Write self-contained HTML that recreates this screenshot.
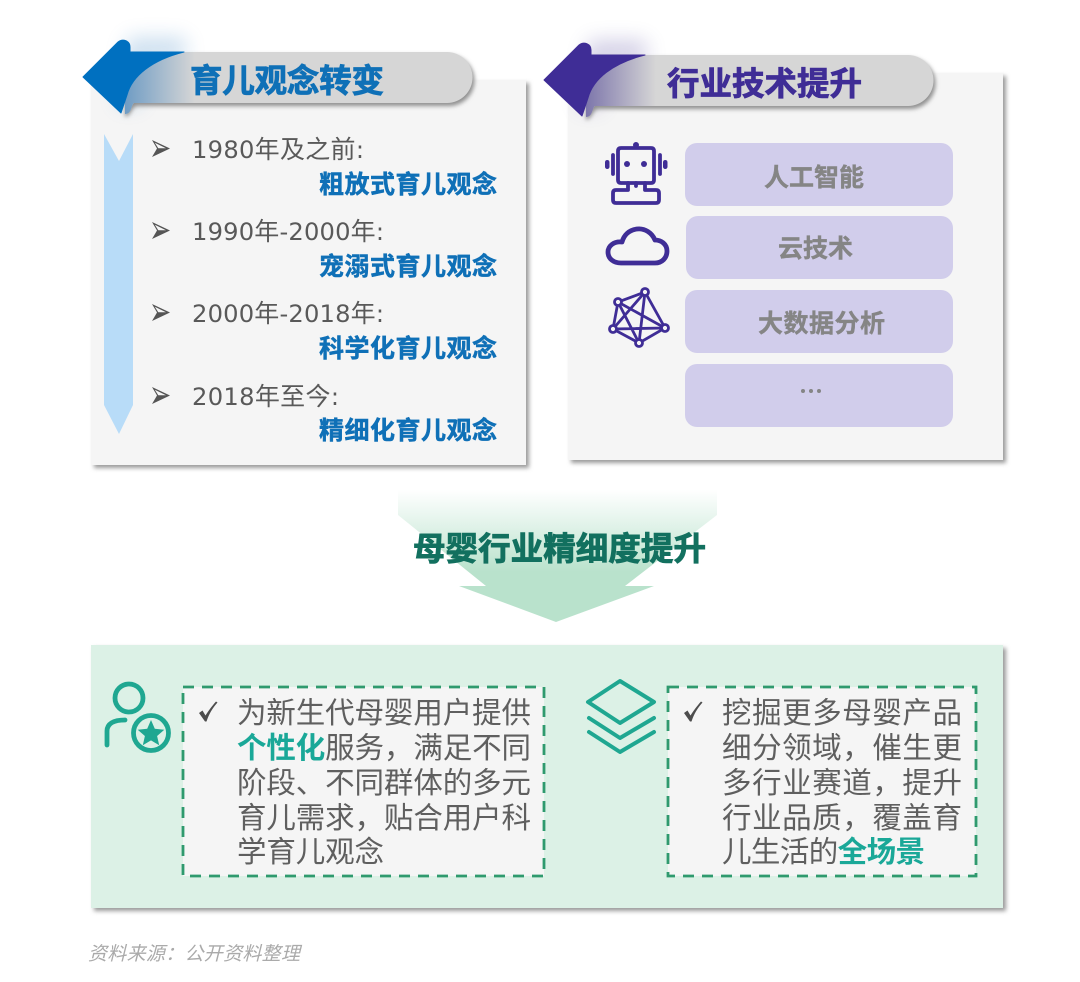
<!DOCTYPE html>
<html><head><meta charset="utf-8"><style>
html,body{margin:0;padding:0;background:#fff}
svg{display:block}
text{font-family:"Liberation Sans","Noto Sans CJK SC",sans-serif}
.cjk{font-family:"Noto Sans CJK SC",sans-serif}
.b{font-weight:700}
.n{font-family:"DejaVu Sans",sans-serif;font-size:24.2px}
</style></head><body>
<svg width="1080" height="982" viewBox="0 0 1080 982" xmlns="http://www.w3.org/2000/svg">
<defs>
<filter id="sh" x="-10%" y="-10%" width="120%" height="120%"><feGaussianBlur stdDeviation="2"/></filter>
<filter id="glow" x="-50%" y="-50%" width="200%" height="200%"><feGaussianBlur stdDeviation="10"/></filter>
<linearGradient id="ga" x1="0" y1="0" x2="0" y2="1"><stop offset="0" stop-color="#b9e2cc" stop-opacity="0"/><stop offset=".62" stop-color="#b9e2cc"/><stop offset="1" stop-color="#b9e2cc"/></linearGradient>
<linearGradient id="gb" x1="0" y1="0" x2="1" y2="0"><stop offset="0" stop-color="#6f9cc4"/><stop offset="1" stop-color="#d6d6d6"/></linearGradient>
<linearGradient id="gp" x1="0" y1="0" x2="1" y2="0"><stop offset="0" stop-color="#7d76ab"/><stop offset="1" stop-color="#d6d6d6"/></linearGradient>
<g id="bul"><path d="M0 0L18 8.500L0 17L5 8.500Z" fill="#555"/><path d="M2.800 2.800L6.300 8.300L14 8.300Z" fill="#f5f5f5"/></g>
<path id="chk" d="M0 10L3.500 7.500L6.500 12.500C10 7 13 3 17 -1.500L18.500 -.5C13.500 5 10 11 7.500 18.500H6Z" fill="#4d4d4d"/>
</defs>

<!-- panels -->
<rect x="94" y="83" width="435" height="385" fill="#9a9a9a" filter="url(#sh)"/>
<rect x="91" y="80" width="435" height="385" fill="#f5f5f5"/>
<rect x="571" y="76" width="435" height="387" fill="#9a9a9a" filter="url(#sh)"/>
<rect x="568" y="73" width="435" height="387" fill="#f5f5f5"/>

<!-- left header -->
<path d="M128 38H185V60H140V105H118Z" fill="#3f86c4" opacity=".28" filter="url(#glow)"/>
<path d="M125 55H449a25.500 25.500 0 0 1 0 51H137C132 106 131 116 125 117Z" fill="#8f8f8f" filter="url(#sh)"/>
<path d="M125 52H447a25.500 25.500 0 0 1 0 51H134C131 105 132 114 125 114Z" fill="#d6d6d6"/>
<path d="M125 52H195V103H134C131 105 132 114 125 114Z" fill="url(#gb)"/>
<path d="M83 77L118 42C123 38 130 41 130 47V52H184C152 60 132 76 127 95L121 113Z" fill="#0070c0" stroke="#0070c0" stroke-linejoin="round"/>

<!-- right header -->
<g transform="translate(461,3)">
<path d="M128 38H185V60H140V105H118Z" fill="#5a4ea0" opacity=".28" filter="url(#glow)"/>
<path d="M125 55H449a25.500 25.500 0 0 1 0 51H137C132 106 131 116 125 117Z" fill="#8f8f8f" filter="url(#sh)"/>
<path d="M125 52H447a25.500 25.500 0 0 1 0 51H134C131 105 132 114 125 114Z" fill="#d6d6d6"/>
<path d="M125 52H195V103H134C131 105 132 114 125 114Z" fill="url(#gp)"/>
<path d="M83 77L118 42C123 38 130 41 130 47V52H184C152 60 132 76 127 95L121 113Z" fill="#3f2d96" stroke="#3f2d96" stroke-linejoin="round"/>
</g>

<text class="cjk b" x="190" y="92" font-size="32.500" fill="#0f70b7" textLength="194" stroke="#0f70b7" stroke-width=".8">育儿观念转变</text>
<text class="cjk b" x="667" y="95" font-size="32.500" fill="#3f2d96" textLength="195" stroke="#3f2d96" stroke-width=".8">行业技术提升</text>

<!-- blue arrow -->
<path d="M104 134L119 161L133 134V405L119 434L104 405Z" fill="#b8dcf8"/>

<!-- timeline -->
<use href="#bul" x="152" y="140"/>
<use href="#bul" x="152" y="222"/>
<use href="#bul" x="152" y="304"/>
<use href="#bul" x="152" y="387"/>
<g font-size="25" fill="#595959">
<text x="192" y="158" textLength="172"><tspan class="n">1980</tspan>年及之前<tspan class="n">:</tspan></text>
<text x="192" y="240" textLength="192"><tspan class="n">1990</tspan>年<tspan class="n">-2000</tspan>年<tspan class="n">:</tspan></text>
<text x="192" y="322" textLength="192"><tspan class="n">2000</tspan>年<tspan class="n">-2018</tspan>年<tspan class="n">:</tspan></text>
<text x="192" y="405" textLength="147"><tspan class="n">2018</tspan>年至今<tspan class="n">:</tspan></text>
</g>
<g fill="#0f70b7" stroke="#0f70b7" stroke-width=".5" font-size="25">
<text class="cjk b" x="319" y="193" textLength="178">粗放式育儿观念</text>
<text class="cjk b" x="319" y="275" textLength="178">宠溺式育儿观念</text>
<text class="cjk b" x="319" y="357" textLength="178">科学化育儿观念</text>
<text class="cjk b" x="319" y="439" textLength="178">精细化育儿观念</text>
</g>

<!-- tech boxes -->
<g fill="#d1cdeb">
<rect x="685" y="143" width="268" height="63" rx="12"/>
<rect x="686" y="216" width="267" height="63" rx="12"/>
<rect x="685" y="290" width="268" height="63" rx="12"/>
<rect x="685" y="364" width="268" height="63" rx="12"/>
</g>
<g font-size="25" fill="#858585" stroke="#858585" stroke-width=".4">
<text class="cjk b" x="764" y="186" textLength="100">人工智能</text>
<text class="cjk b" x="778" y="257" textLength="75">云技术</text>
<text class="cjk b" x="758" y="332" textLength="127">大数据分析</text>
</g>
<g fill="#858585"><circle cx="803" cy="391" r="2"/><circle cx="811" cy="391" r="2"/><circle cx="819" cy="391" r="2"/></g>

<!-- robot -->
<g fill="none" stroke="#3f2d96" stroke-width="3.800" stroke-linecap="round" stroke-linejoin="round">
<path d="M636 148H651Q654 148 654 151V180Q654 183 651 183H621Q618 183 618 180V151Q618 148 621 148Z"/>
<path d="M613 155V174M660 155V174"/>
<path d="M628 183V190H616Q613 190 613 193V200Q613 203 616 203H656Q659 203 659 200V193Q659 190 656 190H645V183"/>
<path d="M636 183V186"/>
</g>
<g fill="#3f2d96">
<circle cx="636" cy="145" r="3"/><circle cx="627" cy="164" r="3"/><circle cx="644" cy="164" r="3"/>
<rect x="605" y="160" width="4.500" height="9" rx="2.200"/><rect x="663" y="160" width="4.500" height="9" rx="2.200"/>
</g>

<!-- cloud -->
<path d="M621 263H655C662 263 667 258 667 251C667 244 661 240 655 240C652 233 645 228 637 229C629 230 624 235 622 242C614 241 608 246 608 252C608 259 614 263 621 263Z" fill="none" stroke="#3f2d96" stroke-width="4.800" stroke-linejoin="round"/>

<!-- network -->
<g fill="none" stroke="#3f2d96" stroke-width="2.800">
<path d="M645 292L618 302L613 329L639 343L665 328Z"/>
<path d="M645 292L613 329M645 292L639 343M618 302L639 343M618 302L665 328M613 329L665 328"/>
</g>
<g fill="#f5f5f5" stroke="#3f2d96" stroke-width="2.800">
<circle cx="645" cy="292" r="3.500"/><circle cx="618" cy="302" r="3.500"/><circle cx="613" cy="329" r="3.500"/><circle cx="639" cy="343" r="3.500"/><circle cx="665" cy="328" r="3.500"/>
</g>

<!-- down arrow -->
<path d="M398 490H717V515L625 586H654L556 622L459 586H486L398 515Z" fill="url(#ga)"/>
<text class="cjk b" x="413" y="560" font-size="32.500" fill="#12705f" textLength="293" stroke="#12705f" stroke-width=".9">母婴行业精细度提升</text>

<!-- bottom -->
<rect x="94" y="648" width="912" height="263" fill="#9a9a9a" filter="url(#sh)"/>
<rect x="91" y="645" width="912" height="263" fill="#dcf1e6"/>
<rect x="183" y="687" width="361" height="189" fill="#f5f5f5" stroke="#2f9a6e" stroke-width="2.800" stroke-dasharray="11 8"/>
<rect x="668" y="687" width="308" height="189" fill="#f5f5f5" stroke="#2f9a6e" stroke-width="2.800" stroke-dasharray="11 8"/>

<!-- person star -->
<g fill="none" stroke="#1fa791" stroke-width="4.800" stroke-linecap="round">
<circle cx="129" cy="698" r="14"/>
<path d="M107 745V731C107 724 113 720 125 720"/>
<circle cx="151" cy="733" r="17.500"/>
</g>
<path d="M151 720L154.800 728.800L164.300 729.700L157.100 736L159.200 745.300L151 740.400L142.800 745.300L144.900 736L137.700 729.700L147.200 728.800Z" fill="#1fa791"/>

<!-- stack -->
<g fill="none" stroke="#1fa791" stroke-width="4" stroke-linecap="round" stroke-linejoin="round">
<path d="M620 681L654 702L620 723L588 702Z"/>
<path d="M589 718L620 738L654 718"/>
<path d="M589 732L620 752L654 732"/>
</g>

<use href="#chk" x="199" y="703"/>
<use href="#chk" x="684" y="703"/>

<g font-size="29.500" fill="#5f5f5f">
<text x="237" y="723" textLength="294">为新生代母婴用户提供</text>
<text x="237" y="758" textLength="294"><tspan class="cjk b" fill="#1aa898">个性化</tspan>服务，满足不同</text>
<text x="237" y="793" textLength="294">阶段、不同群体的多元</text>
<text x="237" y="828" textLength="294">育儿需求，贴合用户科</text>
<text x="237" y="862" textLength="147">学育儿观念</text>
<text x="722" y="723" textLength="240">挖掘更多母婴产品</text>
<text x="722" y="758" textLength="240">细分领域，催生更</text>
<text x="722" y="793" textLength="240">多行业赛道，提升</text>
<text x="722" y="828" textLength="240">行业品质，覆盖育</text>
<text x="722" y="862" textLength="203">儿生活的<tspan class="cjk b" fill="#1aa898">全场景</tspan></text>
</g>

<text x="88" y="960" font-size="19" font-style="italic" fill="#aaaaaa" textLength="212">资料来源：公开资料整理</text>
</svg>
</body></html>
